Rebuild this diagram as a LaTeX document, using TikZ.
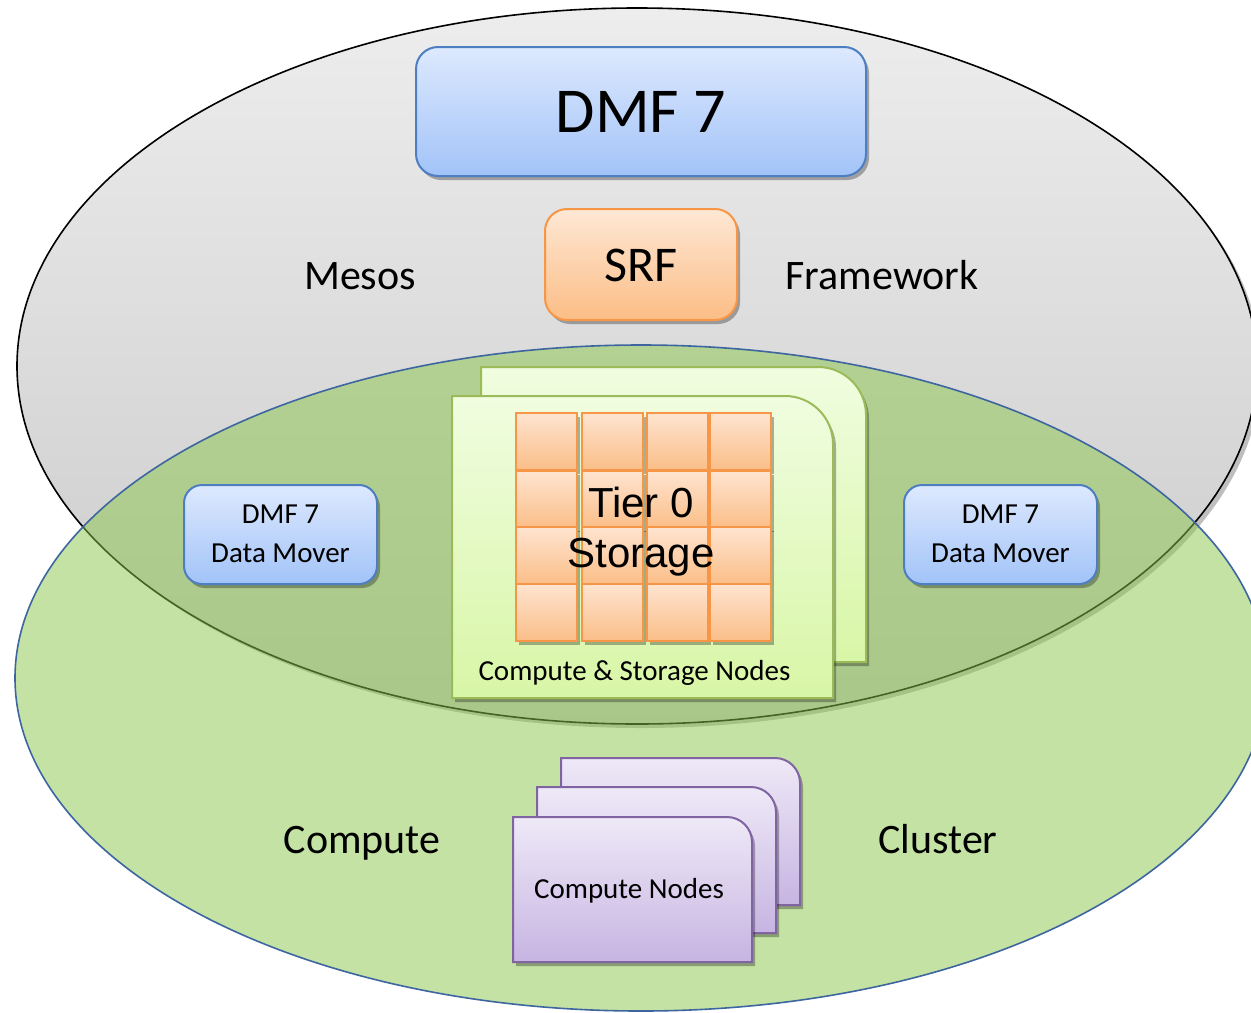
\documentclass[tikz,border=0pt]{standalone}
\usepackage{fontspec}
\setmainfont{Carlito}
\newfontfamily\arialf{Liberation Sans}
\usetikzlibrary{shadows}
\definecolor{graytop}{HTML}{EDEDED}
\definecolor{graybot}{HTML}{C9C9C9}
\definecolor{greenfill}{RGB}{139,199,75}
\definecolor{greenborder}{HTML}{3D66A0}
\definecolor{bluetop}{HTML}{DDE9FE}
\definecolor{bluebot}{HTML}{A2C3F8}
\definecolor{blueborder}{HTML}{4D7EC2}
\definecolor{orangetop}{HTML}{FEE8D5}
\definecolor{orangebot}{HTML}{FBBD85}
\definecolor{orangeborder}{HTML}{F79646}
\definecolor{celltop}{HTML}{FEE4D0}
\definecolor{cellbot}{HTML}{FBBE88}
\definecolor{cardtop}{HTML}{F0FDE0}
\definecolor{cardbot}{HTML}{D8F6A6}
\definecolor{cardborder}{HTML}{9BBB59}
\definecolor{purptop}{HTML}{EEE9F7}
\definecolor{purpbot}{HTML}{C7B4E2}
\definecolor{purpborder}{HTML}{8064A2}
\begin{document}
\begin{tikzpicture}[x=0.5pt,y=-0.5pt,
  shad/.style={drop shadow={shadow xshift=1.5pt,shadow yshift=-2pt,opacity=0.3,fill=black}},
  bluebox/.style={draw=blueborder,line width=1pt,top color=bluetop,bottom color=bluebot,shad,inner sep=0pt},
  orangebox/.style={draw=orangeborder,line width=1pt,top color=orangetop,bottom color=orangebot,shad,inner sep=0pt},
  cell/.style={draw=orangeborder,line width=1pt,top color=celltop,bottom color=cellbot,shad},
  greencard/.style={draw=cardborder,line width=1pt,top color=cardtop,bottom color=cardbot,shad},
  purpcard/.style={draw=purpborder,line width=1pt,top color=purptop,bottom color=purpbot,shad},
  lbl/.style={anchor=base,inner sep=0pt,font=\fontsize{21}{25}\selectfont},
  small/.style={anchor=base,inner sep=0pt,font=\fontsize{14.5}{18}\selectfont}]
\useasboundingbox (0,0) rectangle (1251,1012);
\clip (0,0) rectangle (1251,1012);
\fill[white] (0,0) rectangle (1251,1012);
% Mesos framework ellipse
\path[top color=graytop,bottom color=graybot,draw=black,line width=0.8pt,
  drop shadow={shadow xshift=2pt,shadow yshift=-2pt,opacity=0.25,fill=black}]
  (637,366) ellipse [x radius=620,y radius=358];
% Compute cluster ellipse
\fill[greenfill,fill opacity=0.5] (641,678) ellipse [x radius=626,y radius=333];
\draw[greenborder,line width=0.8pt] (641,678) ellipse [x radius=626,y radius=333];
% DMF 7 and SRF
\node[bluebox,rounded corners=11pt,minimum width=225pt,minimum height=64.5pt] (dmf) at (641,111.5) {};
\node[anchor=base,inner sep=0pt,font=\fontsize{32}{38}\selectfont] (dmft) at (641,132) {DMF 7};
\node[orangebox,rounded corners=11pt,minimum width=96pt,minimum height=55.5pt] (srf) at (641,264.5) {};
\node[anchor=base,inner sep=0pt,font=\fontsize{25}{30}\selectfont] (srft) at (641,281) {SRF};
\node[lbl] (mesos) at (360,289) {Mesos};
\node[lbl] (framework) at (882,289) {Framework};
\node[lbl] (compute) at (362,853) {Compute};
\node[lbl] (cluster) at (938,853) {Cluster};
% Data movers
\node[bluebox,rounded corners=9pt,minimum width=96.5pt,minimum height=49.5pt] (dml) at (280.5,534.5) {};
\node[small] (dmlt1) at (280.5,523) {DMF 7};
\node[small] (dmlt2) at (280.5,562) {Data Mover};
\node[bluebox,rounded corners=9pt,minimum width=96.5pt,minimum height=49.5pt] (dmr) at (1000.5,534.5) {};
\node[small] (dmrt1) at (1000.5,523) {DMF 7};
\node[small] (dmrt2) at (1000.5,562) {Data Mover};
% Compute & storage node cards
\path[greencard] (481,662) -- (481,367) -- (818,367) arc[start angle=-90,end angle=0,radius=48] -- (866,662) -- cycle;
\path[greencard] (452,698) -- (452,396) -- (785,396) arc[start angle=-90,end angle=0,radius=48] -- (833,698) -- cycle;
\foreach \cx in {516,582,647,710}{
  \foreach \cy in {413,471,527,584}{
    \path[cell] (\cx,\cy) rectangle ++(61,57);
  }
}
\node[anchor=base,inner sep=0pt,font=\arialf\fontsize{21}{25}\selectfont] (tier) at (641,517) {Tier 0};
\node[anchor=base,inner sep=0pt,font=\arialf\fontsize{21}{25}\selectfont] (storage) at (641,567) {Storage};
\node[small] (csn) at (634.5,680) {Compute \& Storage Nodes};
% Compute node cards
\path[purpcard] (561,905) -- (561,758) -- (775,758) arc[start angle=-90,end angle=0,radius=25] -- (800,905) -- cycle;
\path[purpcard] (537,933) -- (537,787) -- (751,787) arc[start angle=-90,end angle=0,radius=25] -- (776,933) -- cycle;
\path[purpcard] (513,962) -- (513,817) -- (727,817) arc[start angle=-90,end angle=0,radius=25] -- (752,962) -- cycle;
\node[small] (cn) at (629,898) {Compute Nodes};
\end{tikzpicture}
\end{document}
